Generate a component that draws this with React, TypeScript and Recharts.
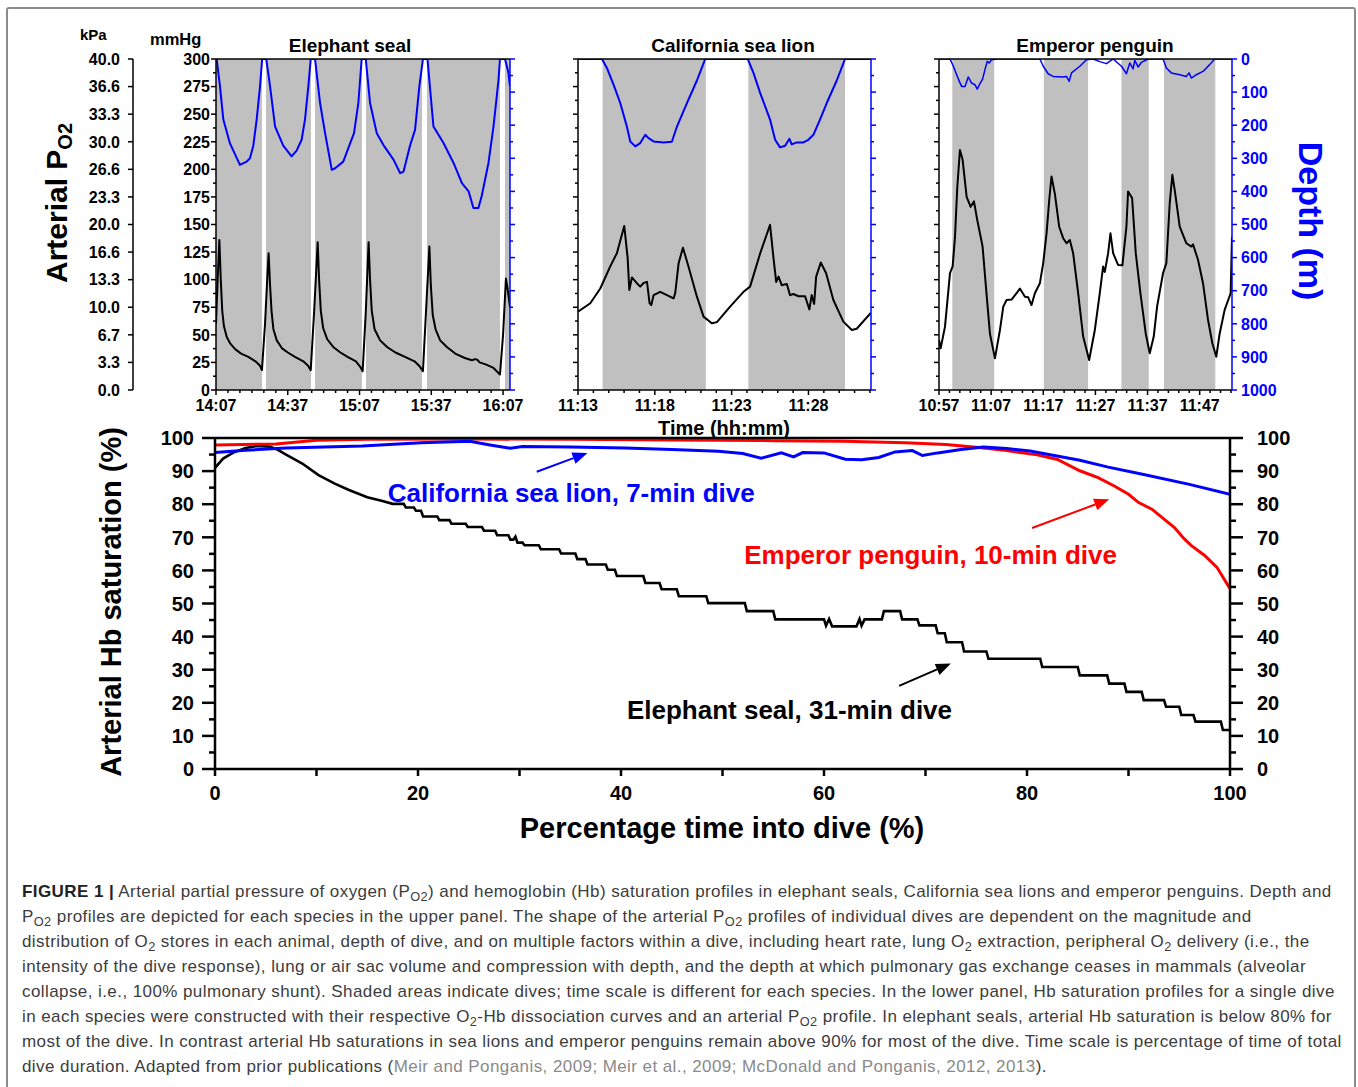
import React from 'react';
import { LineChart, Line, XAxis, YAxis, ReferenceArea, ReferenceLine, ReferenceDot } from 'recharts';

const FONT = '"Liberation Sans", Arial, Helvetica, sans-serif';
const BLUE = '#0000ff';
const RED = '#ff0000';
const SHADE = '#c0c0c0';
const MM = 'axisA_mmHg';
const KPA = 'axisB_kPa';

// ---------- Upper panel: elephant seal (minutes after 14:07) ----------
const sealPo2Time = [0, 0.7, 1.4, 2.0, 2.6, 3.3, 4.5, 6.0, 8.0, 10.5, 13.5, 16.5, 18.4, 19.2, 20.5, 21.4, 22.0, 22.6, 23.2, 24.0, 25.4, 27.5, 30.0, 33.0, 36.5, 38.5, 39.6, 41.0, 42.5, 43.1, 43.8, 44.8, 46.5, 49.0, 52.0, 55.0, 58.5, 60.3, 61.3, 62.6, 63.8, 64.4, 65.1, 66.3, 68.6, 71.5, 75.0, 79.0, 83.0, 85.3, 86.5, 88.0, 89.2, 89.8, 90.6, 91.8, 93.7, 96.5, 100.0, 104.0, 107.0, 108.3, 109.2, 110.2, 113.0, 116.0, 118.7, 120.0, 121.2, 122.0, 122.9];
const sealPo2 = [60, 100, 136, 100, 72, 58, 48, 42, 37, 33, 30, 26, 22, 18, 60, 100, 124, 95, 72, 55, 45, 38, 34, 30, 26, 22, 18, 70, 134, 100, 72, 56, 46, 39, 34, 30, 26, 21, 17, 70, 134, 100, 72, 55, 45, 39, 34, 30, 26, 21, 17, 80, 130, 95, 68, 55, 45, 39, 33, 29, 27, 28, 27.5, 25, 23, 20, 14, 50, 101, 90, 75];
const sealDepthTime = [0, 0.28, 1.67, 3.07, 5.85, 10.0, 12.8, 14.2, 15.6, 17.0, 18.4, 19.3, 21.0, 22.6, 24.7, 28.1, 31.6, 33.7, 35.8, 37.2, 38.6, 39.6, 41.4, 43.5, 45.6, 48.4, 49.8, 53.2, 56.1, 57.7, 59.5, 60.9, 62.6, 64.4, 67.2, 70.0, 74.2, 77.0, 78.4, 81.1, 83.2, 85.0, 86.5, 88.4, 90.9, 95.1, 99.3, 102.8, 105.6, 107.6, 109.7, 111.1, 113.9, 116.0, 118.1, 118.7, 120.8, 122.2, 122.9];
const sealDepth = [0, 0, 83, 183, 255, 320, 310, 300, 262, 183, 83, 0, 0, 83, 204, 262, 294, 277, 244, 183, 83, 0, 0, 133, 224, 335, 330, 310, 254, 224, 133, 0, 0, 133, 224, 260, 304, 345, 340, 262, 214, 83, 0, 0, 204, 254, 314, 375, 400, 450, 450, 413, 314, 204, 63, 0, 0, 40, 83];
const sealDiveStart = [0, 20.9, 41.4, 62.7, 88.2, 120.8];
const sealDiveEnd = [19.2, 39.7, 61.0, 86.1, 118.7, 122.9];
const sealTimeTicks = [0, 30, 60, 90, 120];
const sealTimeLabels = ['14:07', '14:37', '15:07', '15:37', '16:07'];

// ---------- Upper panel: California sea lion (minutes after 11:13) ----------
const lionPo2Time = [0, 0.80, 1.45, 2.10, 2.53, 3.01, 3.23, 3.34, 3.51, 3.83, 4.05, 4.27, 4.49, 4.66, 4.77, 4.92, 5.35, 5.79, 6.22, 6.33, 6.55, 6.83, 7.19, 7.74, 8.17, 8.71, 9.04, 9.90, 10.77, 11.20, 11.86, 12.50, 12.72, 12.90, 13.05, 13.26, 13.59, 13.80, 14.02, 14.35, 14.78, 15.06, 15.21, 15.37, 15.50, 15.80, 16.15, 16.62, 17.27, 17.82, 18.14, 19.07];
const lionPo2 = [71, 78.6, 92, 112, 124, 148.7, 120, 90.7, 102, 96.8, 93.7, 97, 98, 78.6, 77, 86, 89, 86, 83, 88, 115, 129, 112, 84.6, 66.5, 60.5, 61.5, 75.6, 89, 93.7, 124, 149.7, 120, 98, 102.8, 95, 96, 86, 87, 85, 85, 73, 86, 78, 102.8, 115.5, 105.8, 81.6, 62, 54.4, 55.5, 70];
const lionDepthTime = [0, 1.56, 1.88, 2.32, 2.75, 3.18, 3.40, 3.73, 4.05, 4.38, 4.59, 4.92, 5.57, 6.11, 6.44, 7.09, 7.74, 8.28, 11.05, 11.42, 11.86, 12.50, 12.83, 13.15, 13.48, 13.76, 13.91, 14.24, 14.67, 14.99, 15.32, 15.75, 16.19, 16.84, 17.38, 19.07];
const lionDepth = [0, 0, 27, 78, 133, 204, 249, 264, 254, 229, 239, 249, 252, 250, 204, 133, 65, 0, 0, 42, 103, 183, 244, 267, 262, 241, 258, 252, 252, 244, 229, 183, 133, 65, 0, 0];
const lionDiveStart = [1.60, 11.09];
const lionDiveEnd = [8.32, 17.38];
const lionTimeTicks = [0, 5, 10, 15];
const lionTimeLabels = ['11:13', '11:18', '11:23', '11:28'];

// ---------- Upper panel: emperor penguin (minutes after 10:57) ----------
const pengPo2Time = [0, 0.32, 1.15, 2.11, 2.62, 3.07, 3.51, 4.02, 4.53, 5.30, 6.07, 6.71, 7.34, 8.36, 9.0, 9.77, 10.73, 11.69, 12.33, 12.96, 13.92, 14.88, 15.52, 16.48, 17.11, 17.75, 18.39, 19.35, 19.99, 20.63, 21.14, 21.58, 22.22, 23.05, 23.82, 24.46, 25.10, 25.73, 26.69, 27.65, 28.80, 29.89, 30.84, 31.48, 31.80, 32.44, 32.89, 33.40, 34.35, 35.18, 35.95, 36.27, 37.04, 37.74, 38.63, 39.66, 40.42, 41.19, 41.83, 42.98, 43.61, 44.25, 44.76, 45.21, 46.17, 47.45, 48.40, 48.72, 49.68, 50.64, 51.60, 52.43, 53.19, 53.83, 54.79, 55.94, 56.2];
const pengPo2 = [45.4, 37.8, 57.4, 106, 112, 139, 184, 217.6, 208.6, 175, 166, 171, 154, 130, 93.7, 51, 28.7, 54.4, 75.6, 81.6, 82, 87.7, 92, 84.6, 84, 77, 87.7, 96.8, 115, 142, 172, 193.5, 178, 148, 137.6, 133, 136, 124, 87.7, 48.4, 27.2, 54.4, 87.7, 112, 107, 124, 142, 124, 113.4, 113, 148, 180, 174, 124, 87.7, 51, 33.3, 48.4, 75.6, 106, 115, 169, 195, 181.4, 148, 133, 130, 132, 118, 96.8, 63.5, 42.4, 30.2, 51, 72.6, 87.7, 139];
const pengDepthTime = [0, 2.11, 2.75, 3.38, 3.90, 4.34, 4.98, 5.62, 6.25, 6.89, 7.34, 7.85, 8.36, 8.81, 9.26, 9.64, 10.09, 11.05, 19.35, 19.99, 20.94, 21.90, 23.82, 24.46, 24.97, 25.42, 27.01, 28.29, 29.57, 30.84, 32.12, 33.40, 35.00, 35.64, 35.95, 36.59, 37.23, 37.55, 38.19, 38.83, 40.10, 42.98, 43.61, 44.57, 46.17, 47.45, 47.96, 48.40, 49.36, 50.64, 51.92, 52.87, 56.2];
const pengDepth = [0, 0, 22, 47.5, 67.6, 82.8, 82.8, 54.4, 72.6, 77.7, 91, 74.6, 60.6, 32, 7, 12, 2, 0, 0, 22, 44.5, 52.6, 54.6, 52.6, 67.7, 42, 22, 2, 0, 8, 14, 0, 22, 37, 44.5, 12, 30, 4, 24, 10, 0, 0, 27, 42, 47.5, 52.6, 42, 57.5, 47.5, 37.5, 17, 0, 0];
const pengDiveStart = [2.55, 20.11, 35.0, 43.16];
const pengDiveEnd = [10.59, 28.6, 40.23, 53.0];
const pengTimeTicks = [0, 10, 20, 30, 40, 50];
const pengTimeLabels = ['10:57', '11:07', '11:17', '11:27', '11:37', '11:47'];

// ---------- Upper panel axes ----------
const mmHgMajor = [0, 25, 50, 75, 100, 125, 150, 175, 200, 225, 250, 275, 300];
const mmHgLabels = ['0', '25', '50', '75', '100', '125', '150', '175', '200', '225', '250', '275', '300'];
const kPaLabels = ['0.0', '3.3', '6.7', '10.0', '13.3', '16.6', '20.0', '23.3', '26.6', '30.0', '33.3', '36.6', '40.0'];
const depthMajor = [0, 100, 200, 300, 400, 500, 600, 700, 800, 900, 1000];
const depthLabels = ['0', '100', '200', '300', '400', '500', '600', '700', '800', '900', '1000'];

// ---------- Lower panel: Hb saturation (% of dive time) ----------
const sealSatX = [0, 0.8, 1.8, 3, 4.2, 5.4, 6.2, 7, 8.6, 10.2, 11.8, 13.2, 15, 16.5, 17.5, 18.6, 18.8, 19.6, 19.8, 20.3, 20.5, 21.9, 22.1, 23.1, 23.3, 24.7, 24.9, 26.3, 26.5, 27.6, 27.8, 28.9, 29.1, 29.4, 29.6, 29.8, 30.3, 30.5, 31.9, 32.1, 33.9, 34.1, 35.5, 35.7, 36.5, 36.7, 38.5, 38.7, 39.4, 39.6, 42.2, 42.4, 43.8, 44.0, 45.5, 45.7, 48.4, 48.6, 52.2, 52.4, 55.0, 55.2, 60.0, 60.2, 60.5, 60.8, 63.2, 63.5, 63.7, 64.0, 65.7, 65.9, 67.5, 67.7, 69.2, 69.4, 71.0, 71.2, 71.9, 72.1, 73.6, 73.8, 76.0, 76.2, 81.3, 81.5, 85.0, 85.2, 87.9, 88.1, 89.6, 89.8, 91.3, 91.5, 93.5, 93.7, 95.0, 95.2, 96.4, 96.6, 99.1, 99.3, 100];
const sealSatY = [91, 93.8, 95.6, 97, 97.6, 97.4, 96.4, 95, 92.3, 88.8, 86.2, 84.3, 82.1, 81, 80.1, 80.1, 79, 79, 78, 78, 76.3, 76.3, 75.2, 75.2, 74.1, 74.1, 73.1, 73.1, 72, 72, 70.6, 70.6, 69.3, 69.3, 70.2, 68.4, 68.4, 67.6, 67.6, 66.4, 66.4, 65.1, 65.1, 63.4, 63.4, 61.8, 61.8, 60.2, 60.2, 58.3, 58.3, 56.2, 56.2, 54.3, 54.3, 52.2, 52.2, 50.1, 50.1, 47.7, 47.7, 45.2, 45.2, 43.3, 45.3, 43.1, 43.1, 45.3, 43.3, 45.2, 45.2, 47.7, 47.7, 45.2, 45.2, 43.4, 43.4, 41.0, 41.0, 38.3, 38.3, 35.5, 35.5, 33.3, 33.3, 30.8, 30.8, 28.3, 28.3, 25.8, 25.8, 23.3, 23.3, 20.8, 20.8, 18.8, 18.8, 16.3, 16.3, 14.3, 14.3, 11.8, 11.8];
const lionSatX = [0, 3, 7, 14.5, 20.3, 25.1, 27.1, 29.1, 30.3, 35, 40.4, 45, 49.6, 52, 53.8, 55.8, 57.0, 57.9, 60.0, 62.1, 63.7, 65.4, 67.0, 68.7, 69.7, 71.2, 73.5, 75.7, 78, 80.3, 85.2, 88, 91.5, 96, 100];
const lionSatY = [95.6, 96.3, 97.0, 97.6, 98.6, 99.0, 97.9, 96.9, 97.4, 97.3, 97.0, 96.5, 96.0, 95.3, 93.9, 95.5, 94.3, 95.6, 95.5, 93.6, 93.4, 94.1, 95.8, 96.2, 94.7, 95.5, 96.5, 97.3, 96.8, 96.1, 93.3, 91.2, 89.0, 86.0, 83.0];
const pengSatX = [0, 6, 10, 15, 25, 35, 45, 55, 62, 68, 72, 75, 78, 81, 83, 85.2, 87, 88.6, 90, 91, 92.3, 93.5, 94.5, 95.5, 96.2, 97.5, 98.7, 99.4, 100];
const pengSatY = [97.9, 98.2, 99.3, 99.6, 99.7, 99.6, 99.4, 99.2, 99.0, 98.6, 98.0, 97.2, 96.2, 94.9, 93.5, 90.1, 88.0, 85.5, 83.0, 80.5, 78.5, 75.5, 73.0, 69.5, 67.5, 64.5, 61.0, 57.5, 54.5];
const satMajor = [0, 10, 20, 30, 40, 50, 60, 70, 80, 90, 100];
const satLabels = ['0', '10', '20', '30', '40', '50', '60', '70', '80', '90', '100'];
const pctMajor = [0, 20, 40, 60, 80, 100];
const pctLabels = ['0', '20', '40', '60', '80', '100'];

// annotations (data coordinates of lower panel)
const noteText = ['California sea lion, 7-min dive', 'Emperor penguin, 10-min dive', 'Elephant seal, 31-min dive'];
const noteColor = [BLUE, RED, '#000000'];
const noteX = [35.1, 70.5, 56.6];
const noteY = [83.4, 64.6, 17.8];
const arrowFromX = [31.7, 80.5, 67.4];
const arrowFromY = [89.8, 72.8, 25.1];
const arrowToX = [36.7, 88.1, 72.5];
const arrowToY = [95.5, 81.5, 31.9];

// ---------- helpers ----------
const range = (a: number, b: number, s: number) => {
  const out: number[] = [];
  for (let v = a; v <= b + 1e-9; v += s) out.push(+v.toFixed(4));
  return out;
};
const zip = (xs: number[], ys: number[], kx: string, ky: string) => xs.map((x, i) => ({ [kx]: x, [ky]: ys[i] }));

type TickCfg = {
  side: 'bottom' | 'top' | 'left' | 'right';
  majors: number[];
  labels?: string[];
  majorLen: number;
  minorLen: number;
  color: string;
  fontSize?: number;
  gap?: number;
  width?: number;
};

function makeTick(cfg: TickCfg) {
  const TickMark = (props: any) => {
    const x = Number(props.x);
    const y = Number(props.y);
    const v = Number(props.payload ? props.payload.value : NaN);
    const idx = cfg.majors.findIndex((m) => Math.abs(m - v) < 1e-6);
    const len = idx >= 0 ? cfg.majorLen : cfg.minorLen;
    const label = idx >= 0 && cfg.labels ? cfg.labels[idx] : '';
    const sw = cfg.width ?? 1.5;
    const fs = cfg.fontSize ?? 16;
    const gap = cfg.gap ?? 6;
    const st = { fill: cfg.color, fontSize: fs, fontWeight: 700, fontFamily: FONT } as React.CSSProperties;
    if (cfg.side === 'bottom') {
      return (
        <g>
          <line x1={x} y1={y} x2={x} y2={y + len} stroke={cfg.color} strokeWidth={sw} />
          {label ? <text x={x} y={y + gap} dy="0.72em" textAnchor="middle" style={st}>{label}</text> : null}
        </g>
      );
    }
    if (cfg.side === 'top') {
      return (
        <g>
          <line x1={x} y1={y} x2={x} y2={y + len} stroke={cfg.color} strokeWidth={sw} />
        </g>
      );
    }
    if (cfg.side === 'left') {
      return (
        <g>
          <line x1={x} y1={y} x2={x - len} y2={y} stroke={cfg.color} strokeWidth={sw} />
          {label ? <text x={x - gap} y={y} dy="0.36em" textAnchor="end" style={st}>{label}</text> : null}
        </g>
      );
    }
    return (
      <g>
        <line x1={x} y1={y} x2={x + len} y2={y} stroke={cfg.color} strokeWidth={sw} />
        {label ? <text x={x + gap} y={y} dy="0.36em" textAnchor="start" style={st}>{label}</text> : null}
      </g>
    );
  };
  return TickMark;
}

const makeArrow = (color: string) => (p: any) => {
  const x1 = Number(p.x1), y1 = Number(p.y1), x2 = Number(p.x2), y2 = Number(p.y2);
  const a = Math.atan2(y2 - y1, x2 - x1);
  const L = 15, W = 6;
  const bx = x2 - L * Math.cos(a), by = y2 - L * Math.sin(a);
  const pts = `${x2},${y2} ${bx + W * Math.sin(a)},${by - W * Math.cos(a)} ${bx - W * Math.sin(a)},${by + W * Math.cos(a)}`;
  return (
    <g>
      <line x1={x1} y1={y1} x2={bx} y2={by} stroke={color} strokeWidth={2} />
      <polygon points={pts} fill={color} />
    </g>
  );
};

type PanelCfg = {
  left: number;
  width: number;
  mmWidth: number;
  kpaWidth?: number;
  rightWidth: number;
  xMax: number;
  xMajors: number[];
  xLabels: string[];
  xMinorStep: number;
  diveStart: number[];
  diveEnd: number[];
  po2Time: number[];
  po2: number[];
  depthTime: number[];
  depth: number[];
  mmLabels: boolean;
  depthLabels: boolean;
  depthStroke: number;
};

function TopPanel({ c }: { c: PanelCfg }) {
  const po2Data = zip(c.po2Time, c.po2, 't', 'v');
  const depthData = zip(c.depthTime, c.depth, 't', 'd');
  const xTicks = range(0, c.xMax, c.xMinorStep);
  const axisLine = { stroke: '#000', strokeWidth: 1.5 };
  return (
    <div style={{ position: 'absolute', left: c.left, top: 0 }}>
      <LineChart width={c.width} height={430} margin={{ top: 58, right: 0, bottom: 0, left: 0 }}>
        {c.diveStart.map((s, i) => (
          <ReferenceArea key={'dive' + i} xAxisId="b" yAxisId={MM} x1={s} x2={c.diveEnd[i]} fill={SHADE} fillOpacity={1} stroke="none" ifOverflow="hidden" />
        ))}
        <XAxis
          xAxisId="b"
          dataKey="t"
          type="number"
          domain={[0, c.xMax]}
          allowDataOverflow
          ticks={xTicks}
          interval={0}
          tickSize={0}
          tickMargin={0}
          tickLine={false}
          height={40}
          axisLine={axisLine}
          tick={makeTick({ side: 'bottom', majors: c.xMajors, labels: c.xLabels, majorLen: 5, minorLen: 3, color: '#000', fontSize: 16, gap: 9 })}
        />
        <XAxis
          xAxisId="t"
          orientation="top"
          type="number"
          domain={[0, c.xMax]}
          allowDataOverflow
          ticks={xTicks}
          interval={0}
          tickSize={0}
          tickMargin={0}
          tickLine={false}
          height={1}
          axisLine={axisLine}
          tick={makeTick({ side: 'top', majors: c.xMajors, majorLen: 5, minorLen: 3, color: '#000' })}
        />
        <YAxis
          yAxisId={MM}
          type="number"
          domain={[0, 300]}
          allowDataOverflow
          ticks={range(0, 300, 12.5)}
          interval={0}
          tickSize={0}
          tickMargin={0}
          tickLine={false}
          width={c.mmWidth}
          axisLine={axisLine}
          tick={makeTick({ side: 'left', majors: mmHgMajor, labels: c.mmLabels ? mmHgLabels : undefined, majorLen: 5, minorLen: 3, color: '#000', fontSize: 16, gap: 6 })}
        />
        {c.kpaWidth ? (
          <YAxis
            yAxisId={KPA}
            type="number"
            domain={[0, 300]}
            allowDataOverflow
            ticks={mmHgMajor}
            interval={0}
            tickSize={0}
            tickMargin={0}
            tickLine={false}
            width={c.kpaWidth}
            axisLine={axisLine}
            tick={makeTick({ side: 'left', majors: mmHgMajor, labels: kPaLabels, majorLen: 5, minorLen: 5, color: '#000', fontSize: 16, gap: 13 })}
          />
        ) : null}
        <YAxis
          yAxisId="d"
          orientation="right"
          type="number"
          domain={[0, 1000]}
          reversed
          allowDataOverflow
          ticks={range(0, 1000, 50)}
          interval={0}
          tickSize={0}
          tickMargin={0}
          tickLine={false}
          width={c.rightWidth}
          axisLine={{ stroke: BLUE, strokeWidth: 1.5 }}
          tick={makeTick({ side: 'right', majors: depthMajor, labels: c.depthLabels ? depthLabels : undefined, majorLen: 5, minorLen: 3, color: BLUE, fontSize: 16, gap: 9 })}
        />
        <Line xAxisId="b" yAxisId="d" data={depthData} dataKey="d" type="linear" stroke={BLUE} strokeWidth={c.depthStroke} dot={false} activeDot={false} isAnimationActive={false} strokeLinejoin="round" />
        <Line xAxisId="b" yAxisId={MM} data={po2Data} dataKey="v" type="linear" stroke="#000" strokeWidth={2} dot={false} activeDot={false} isAnimationActive={false} strokeLinejoin="round" />
      </LineChart>
    </div>
  );
}

function SaturationPanel() {
  const seal = zip(sealSatX, sealSatY, 'x', 'y');
  const lion = zip(lionSatX, lionSatY, 'x', 'y');
  const peng = zip(pengSatX, pengSatY, 'x', 'y');
  const axisLine = { stroke: '#000', strokeWidth: 2.5 };
  return (
    <div style={{ position: 'absolute', left: 0, top: 420 }}>
      <LineChart width={1358} height={440} margin={{ top: 17, right: 0, bottom: 0, left: 0 }}>
        <XAxis
          xAxisId="b"
          dataKey="x"
          type="number"
          domain={[0, 100]}
          allowDataOverflow
          ticks={range(0, 100, 10)}
          interval={0}
          tickSize={0}
          tickMargin={0}
          tickLine={false}
          height={91}
          axisLine={axisLine}
          tick={makeTick({ side: 'bottom', majors: pctMajor, labels: pctLabels, majorLen: 7, minorLen: 7, color: '#000', fontSize: 20, gap: 17, width: 2.5 })}
        />
        <XAxis
          xAxisId="t"
          orientation="top"
          type="number"
          domain={[0, 100]}
          allowDataOverflow
          ticks={range(0, 100, 10)}
          interval={0}
          tickSize={0}
          tickMargin={0}
          tickLine={false}
          height={1}
          axisLine={axisLine}
          tick={makeTick({ side: 'top', majors: pctMajor, majorLen: 7, minorLen: 7, color: '#000', width: 2.5 })}
        />
        <YAxis
          yAxisId="l"
          type="number"
          domain={[0, 100]}
          allowDataOverflow
          ticks={range(0, 100, 5)}
          interval={0}
          tickSize={0}
          tickMargin={0}
          tickLine={false}
          width={215}
          axisLine={axisLine}
          tick={makeTick({ side: 'left', majors: satMajor, labels: satLabels, majorLen: 13, minorLen: 6, color: '#000', fontSize: 20, gap: 21, width: 2.5 })}
        />
        <YAxis
          yAxisId="r"
          orientation="right"
          type="number"
          domain={[0, 100]}
          allowDataOverflow
          ticks={range(0, 100, 5)}
          interval={0}
          tickSize={0}
          tickMargin={0}
          tickLine={false}
          width={128}
          axisLine={axisLine}
          tick={makeTick({ side: 'right', majors: satMajor, labels: satLabels, majorLen: 13, minorLen: 6, color: '#000', fontSize: 20, gap: 27, width: 2.5 })}
        />
        <Line xAxisId="b" yAxisId="l" data={seal} dataKey="y" type="linear" stroke="#000" strokeWidth={2.6} dot={false} activeDot={false} isAnimationActive={false} />
        <Line xAxisId="b" yAxisId="l" data={peng} dataKey="y" type="linear" stroke={RED} strokeWidth={3} dot={false} activeDot={false} isAnimationActive={false} />
        <Line xAxisId="b" yAxisId="l" data={lion} dataKey="y" type="linear" stroke={BLUE} strokeWidth={3} dot={false} activeDot={false} isAnimationActive={false} />
        {noteText.map((t, i) => (
          <ReferenceLine
            key={'arrow' + i}
            xAxisId="b"
            yAxisId="l"
            segment={[{ x: arrowFromX[i], y: arrowFromY[i] }, { x: arrowToX[i], y: arrowToY[i] }]}
            stroke={noteColor[i]}
            shape={makeArrow(noteColor[i])}
          />
        ))}
        {noteText.map((t, i) => (
          <ReferenceDot
            key={'note' + i}
            xAxisId="b"
            yAxisId="l"
            x={noteX[i]}
            y={noteY[i]}
            r={0}
            fill="none"
            stroke="none"
            label={(p: any) => {
              const vb = p.viewBox || {};
              const cx = (vb.x ?? 0) + (vb.width ?? 0) / 2;
              const cy = (vb.y ?? 0) + (vb.height ?? 0) / 2;
              return (
                <text x={cx} y={cy} dominantBaseline="central" textAnchor="middle" style={{ fill: noteColor[i], fontSize: 26, fontWeight: 700, fontFamily: FONT }}>
                  {t}
                </text>
              );
            }}
          />
        ))}
      </LineChart>
    </div>
  );
}

const Sub = ({ children }: { children: React.ReactNode }) => (
  <sub style={{ fontSize: '0.75em', verticalAlign: '-0.3em', lineHeight: 0 }}>{children}</sub>
);

const captionLines: React.ReactNode[] = [
  <>
    <b style={{ fontWeight: 700, color: '#222' }}>FIGURE 1 |</b> Arterial partial pressure of oxygen (P<Sub>O2</Sub>) and hemoglobin (Hb) saturation profiles in elephant seals, California sea lions and emperor penguins. Depth and
  </>,
  <>
    P<Sub>O2</Sub> profiles are depicted for each species in the upper panel. The shape of the arterial P<Sub>O2</Sub> profiles of individual dives are dependent on the magnitude and
  </>,
  <>
    distribution of O<Sub>2</Sub> stores in each animal, depth of dive, and on multiple factors within a dive, including heart rate, lung O<Sub>2</Sub> extraction, peripheral O<Sub>2</Sub> delivery (i.e., the
  </>,
  <>intensity of the dive response), lung or air sac volume and compression with depth, and the depth at which pulmonary gas exchange ceases in mammals (alveolar</>,
  <>collapse, i.e., 100% pulmonary shunt). Shaded areas indicate dives; time scale is different for each species. In the lower panel, Hb saturation profiles for a single dive</>,
  <>
    in each species were constructed with their respective O<Sub>2</Sub>-Hb dissociation curves and an arterial P<Sub>O2</Sub> profile. In elephant seals, arterial Hb saturation is below 80% for
  </>,
  <>most of the dive. In contrast arterial Hb saturations in sea lions and emperor penguins remain above 90% for most of the dive. Time scale is percentage of time of total</>,
  <>
    dive duration. Adapted from prior publications (<span style={{ color: '#8a8a8a' }}>Meir and Ponganis, 2009; Meir et al., 2009; McDonald and Ponganis, 2012, 2013</span>).
  </>,
];

export default function App() {
  const panels: PanelCfg[] = [
    {
      left: 0, width: 540, mmWidth: 83, kpaWidth: 133, rightWidth: 30, xMax: 122.9,
      xMajors: sealTimeTicks, xLabels: sealTimeLabels, xMinorStep: 5,
      diveStart: sealDiveStart, diveEnd: sealDiveEnd,
      po2Time: sealPo2Time, po2: sealPo2, depthTime: sealDepthTime, depth: sealDepth,
      mmLabels: true, depthLabels: false, depthStroke: 2,
    },
    {
      left: 540, width: 360, mmWidth: 38, rightWidth: 29, xMax: 19.07,
      xMajors: lionTimeTicks, xLabels: lionTimeLabels, xMinorStep: 1,
      diveStart: lionDiveStart, diveEnd: lionDiveEnd,
      po2Time: lionPo2Time, po2: lionPo2, depthTime: lionDepthTime, depth: lionDepth,
      mmLabels: false, depthLabels: false, depthStroke: 2,
    },
    {
      left: 900, width: 458, mmWidth: 39, rightWidth: 126, xMax: 56.2,
      xMajors: pengTimeTicks, xLabels: pengTimeLabels, xMinorStep: 2,
      diveStart: pengDiveStart, diveEnd: pengDiveEnd,
      po2Time: pengPo2Time, po2: pengPo2, depthTime: pengDepthTime, depth: pengDepth,
      mmLabels: false, depthLabels: true, depthStroke: 1.5,
    },
  ];
  const bold = { fontFamily: FONT, fontWeight: 700 } as React.CSSProperties;
  return (
    <div style={{ position: 'absolute', left: 0, top: 0, width: 1358, height: 1087, overflow: 'hidden', background: '#fff', fontFamily: FONT }}>
      <div style={{ position: 'absolute', left: 6, top: 7, width: 1350, height: 1200, border: '2px solid #8c8c8c', borderRadius: 3, boxSizing: 'border-box' }} />
      {panels.map((c, i) => (
        <TopPanel key={i} c={c} />
      ))}
      <SaturationPanel />
      <svg width={1358} height={1087} style={{ position: 'absolute', left: 0, top: 0, pointerEvents: 'none' }}>
        <text x={80} y={34} dominantBaseline="central" style={{ ...bold, fontSize: 15 }}>kPa</text>
        <text x={150} y={39} dominantBaseline="central" style={{ ...bold, fontSize: 16.5 }}>mmHg</text>
        <text x={350} y={45} dominantBaseline="central" textAnchor="middle" style={{ ...bold, fontSize: 19 }}>Elephant seal</text>
        <text x={733} y={45} dominantBaseline="central" textAnchor="middle" style={{ ...bold, fontSize: 19 }}>California sea lion</text>
        <text x={1095} y={45} dominantBaseline="central" textAnchor="middle" style={{ ...bold, fontSize: 19 }}>Emperor penguin</text>
        <text x={724} y={428} dominantBaseline="central" textAnchor="middle" style={{ ...bold, fontSize: 20 }}>Time (hh:mm)</text>
        <text transform="translate(67,203) rotate(-90)" textAnchor="middle" style={{ ...bold, fontSize: 30 }}>
          Arterial P<tspan dy="0.25em" style={{ fontSize: 20 }}>O2</tspan>
        </text>
        <text transform="translate(1299,221) rotate(90)" textAnchor="middle" style={{ ...bold, fontSize: 34, fill: BLUE }}>Depth (m)</text>
        <text transform="translate(121,602) rotate(-90)" textAnchor="middle" style={{ ...bold, fontSize: 29 }}>Arterial Hb saturation (%)</text>
        <text x={722} y={828} dominantBaseline="central" textAnchor="middle" style={{ ...bold, fontSize: 29 }}>Percentage time into dive (%)</text>
      </svg>
      <div style={{ position: 'absolute', left: 22, top: 879, color: '#3c3c3c', fontSize: 17, letterSpacing: 0.42, fontFamily: FONT }}>
        {captionLines.map((l, i) => (
          <div key={i} style={{ height: 25, lineHeight: '25px', whiteSpace: 'nowrap' }}>{l}</div>
        ))}
      </div>
    </div>
  );
}
